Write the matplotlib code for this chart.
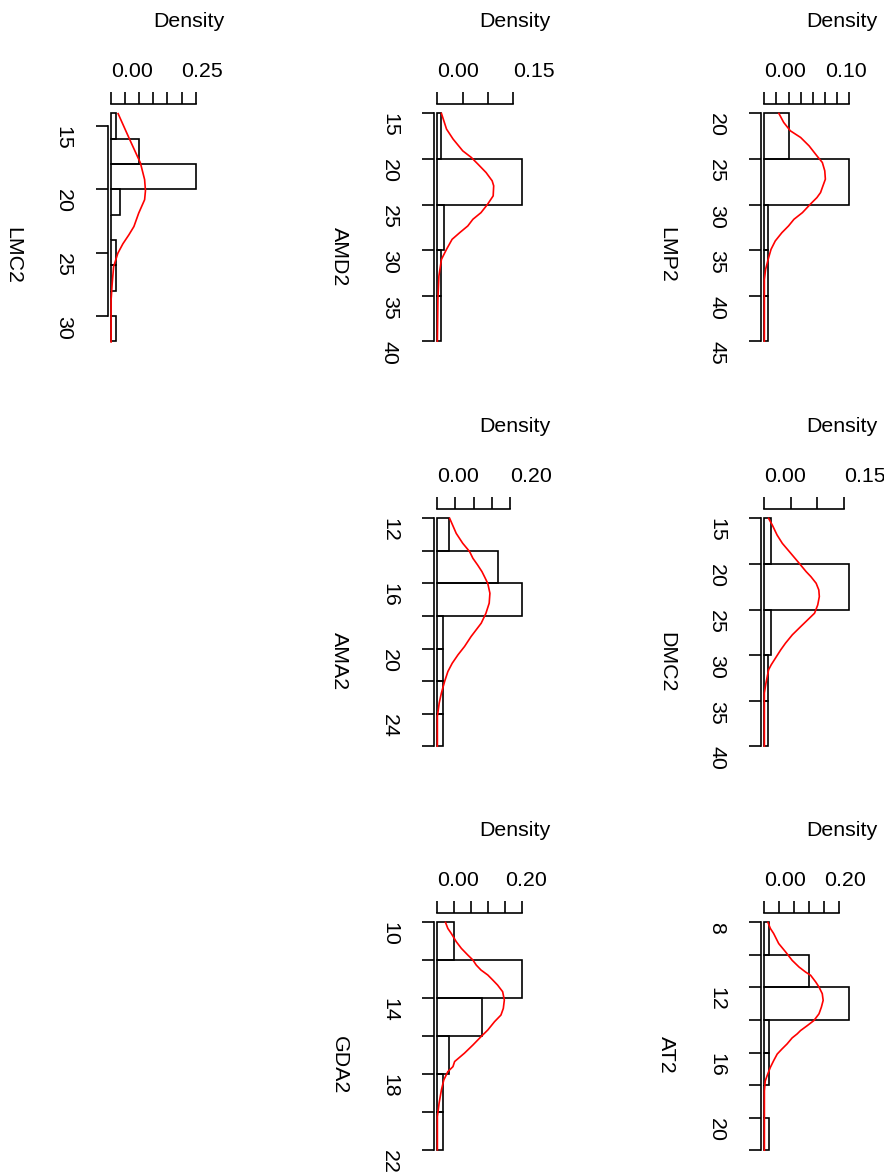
import numpy as np
import matplotlib.pyplot as plt

plt.rcParams['font.family'] = ['Liberation Sans', 'DejaVu Sans']

# histogram bins (edges) and counts per variable
lmc2_breaks = [14, 16, 18, 20, 22, 24, 26, 28, 30, 32]
lmc2_counts = [1, 6, 18, 2, 0, 1, 1, 0, 1]
amd2_breaks = [15, 20, 25, 30, 35, 40]
amd2_counts = [1, 25, 2, 1, 1]
lmp2_breaks = [20, 25, 30, 35, 40, 45]
lmp2_counts = [6, 21, 1, 1, 1]
ama2_breaks = [12, 14, 16, 18, 20, 22, 24, 26]
ama2_counts = [2, 10, 14, 1, 1, 1, 1]
dmc2_breaks = [15, 20, 25, 30, 35, 40]
dmc2_counts = [2, 24, 2, 1, 1]
gda2_breaks = [10, 12, 14, 16, 18, 20, 22]
gda2_counts = [3, 15, 8, 2, 1, 1]
at2_breaks = [8, 10, 12, 14, 16, 18, 20, 22]
at2_counts = [1, 9, 17, 1, 1, 0, 1]

# red density curves (value, density)
lmc2_cv = [14.02, 16.06, 17.91, 19.23, 20.11, 20.82, 21.88, 22.94, 23.6, 24.3, 25.05, 26.11, 27.43, 28.76, 32.06]
lmc2_cd = [0.025, 0.066, 0.104, 0.119, 0.122, 0.119, 0.098, 0.081, 0.063, 0.042, 0.024, 0.009, 0.004, 0.0, 0.0]
amd2_cv = [15.0, 16.72, 17.82, 19.11, 19.84, 20.57, 21.49, 22.40, 22.95, 24.05, 24.97, 25.89, 26.62, 27.35,
           28.09, 28.82, 29.92, 31.02, 32.85, 35.42, 40.0]
amd2_cd = [0.008, 0.018, 0.031, 0.050, 0.067, 0.080, 0.096, 0.108, 0.111, 0.110, 0.099, 0.086, 0.070, 0.060,
           0.044, 0.029, 0.018, 0.008, 0.003, 0.001, 0.0]
lmp2_cv = [20.0, 20.99, 21.91, 22.64, 23.56, 24.66, 25.39, 26.30, 27.22, 27.95, 28.69, 29.24, 29.97, 30.89,
           31.62, 32.35, 33.09, 34.00, 34.92, 35.84, 37.12, 38.22, 45.0]
lmp2_cd = [0.024, 0.032, 0.043, 0.060, 0.074, 0.087, 0.096, 0.100, 0.101, 0.097, 0.093, 0.087, 0.076, 0.063,
           0.049, 0.040, 0.029, 0.018, 0.011, 0.007, 0.002, 0.0, 0.0]
ama2_cv = [12.0, 12.92, 13.53, 14.04, 14.45, 14.86, 15.27, 15.58, 15.99, 16.60, 17.21, 17.83, 18.44, 18.85,
           19.26, 19.87, 20.38, 20.90, 21.41, 22.02, 22.74, 23.35, 24.17, 26.0]
ama2_cd = [0.034, 0.052, 0.070, 0.089, 0.098, 0.111, 0.123, 0.130, 0.139, 0.145, 0.143, 0.134, 0.121, 0.107,
           0.093, 0.075, 0.057, 0.041, 0.029, 0.020, 0.011, 0.005, 0.0, 0.0]
dmc2_cv = [15.0, 15.73, 16.82, 17.74, 18.83, 19.93, 20.84, 21.39, 22.12, 22.85, 23.58, 24.49, 25.40, 26.13,
           26.86, 27.77, 28.69, 29.42, 30.33, 31.06, 31.61, 33.07, 34.16, 40.0]
dmc2_cd = [0.008, 0.015, 0.024, 0.034, 0.050, 0.066, 0.079, 0.088, 0.098, 0.103, 0.104, 0.101, 0.095, 0.082,
           0.069, 0.053, 0.040, 0.031, 0.021, 0.013, 0.008, 0.003, 0.0, 0.0]
gda2_cv = [10.0, 10.32, 10.58, 11.02, 11.37, 11.72, 11.98, 12.25, 12.51, 12.77, 13.04, 13.30, 13.65, 14.09,
           14.53, 14.88, 15.23, 15.67, 16.02, 16.46, 16.89, 17.33, 17.60, 17.86, 18.30, 18.82, 19.53, 20.23, 21.98]
gda2_cd = [0.024, 0.031, 0.041, 0.056, 0.071, 0.090, 0.105, 0.115, 0.129, 0.149, 0.164, 0.178, 0.193, 0.198,
           0.195, 0.188, 0.169, 0.149, 0.129, 0.105, 0.080, 0.051, 0.046, 0.031, 0.019, 0.012, 0.005, 0.0, 0.0]
at2_cv = [8.0, 8.37, 8.68, 9.30, 9.81, 10.33, 10.74, 11.05, 11.25, 11.66, 11.97, 12.38, 12.79, 13.21, 13.62,
          14.03, 14.34, 14.65, 14.85, 15.10, 15.47, 15.78, 16.09, 16.50, 16.91, 17.33, 17.74, 18.35, 22.0]
at2_cd = [0.012, 0.020, 0.031, 0.048, 0.071, 0.093, 0.116, 0.138, 0.155, 0.172, 0.183, 0.194, 0.197, 0.191,
          0.183, 0.166, 0.144, 0.121, 0.110, 0.093, 0.076, 0.059, 0.043, 0.031, 0.020, 0.011, 0.003, 0.0, 0.0]

# axis ticks: density ticks / labelled ones, value ticks / labelled ones
lmc2_dt, lmc2_dl = [0, 0.05, 0.10, 0.15, 0.20, 0.25, 0.30], [0.0, 0.25]
amd2_dt, amd2_dl = [0, 0.05, 0.10, 0.15], [0.0, 0.15]
lmp2_dt, lmp2_dl = [0, 0.02, 0.04, 0.06, 0.08, 0.10, 0.12, 0.14], [0.0, 0.10]
ama2_dt, ama2_dl = [0, 0.05, 0.10, 0.15, 0.20], [0.0, 0.20]
dmc2_dt, dmc2_dl = [0, 0.05, 0.10, 0.15], [0.0, 0.15]
gda2_dt, gda2_dl = [0, 0.05, 0.10, 0.15, 0.20, 0.25], [0.0, 0.20]
at2_dt, at2_dl = [0, 0.05, 0.10, 0.15, 0.20, 0.25], [0.0, 0.20]

lmc2_vt, lmc2_vl = [15, 20, 25, 30], [15, 20, 25, 30]
amd2_vt, amd2_vl = [15, 20, 25, 30, 35, 40], [15, 20, 25, 30, 35, 40]
lmp2_vt, lmp2_vl = [20, 25, 30, 35, 40, 45], [20, 25, 30, 35, 40, 45]
ama2_vt, ama2_vl = [12, 14, 16, 18, 20, 22, 24, 26], [12, 16, 20, 24]
dmc2_vt, dmc2_vl = [15, 20, 25, 30, 35, 40], [15, 20, 25, 30, 35, 40]
gda2_vt, gda2_vl = [10, 12, 14, 16, 18, 20, 22], [10, 14, 18, 22]
at2_vt, at2_vl = [8, 10, 12, 14, 16, 18, 20, 22], [8, 12, 16, 20]

panels = [
    ("LMC2", lmc2_breaks, lmc2_counts, lmc2_cv, lmc2_cd, lmc2_dt, lmc2_dl, lmc2_vt, lmc2_vl, 0, 0),
    ("AMD2", amd2_breaks, amd2_counts, amd2_cv, amd2_cd, amd2_dt, amd2_dl, amd2_vt, amd2_vl, 0, 1),
    ("LMP2", lmp2_breaks, lmp2_counts, lmp2_cv, lmp2_cd, lmp2_dt, lmp2_dl, lmp2_vt, lmp2_vl, 0, 2),
    ("AMA2", ama2_breaks, ama2_counts, ama2_cv, ama2_cd, ama2_dt, ama2_dl, ama2_vt, ama2_vl, 1, 1),
    ("DMC2", dmc2_breaks, dmc2_counts, dmc2_cv, dmc2_cd, dmc2_dt, dmc2_dl, dmc2_vt, dmc2_vl, 1, 2),
    ("GDA2", gda2_breaks, gda2_counts, gda2_cv, gda2_cd, gda2_dt, gda2_dl, gda2_vt, gda2_vl, 2, 1),
    ("AT2", at2_breaks, at2_counts, at2_cv, at2_cd, at2_dt, at2_dl, at2_vt, at2_vl, 2, 2),
]

W, H = 884, 1175
COL_X = [107.7, 434.0, 761.0]
ROW_Y = [104.3, 509.3, 913.3]
AX_W, AX_H = 91.3, 246.0
FS = 15.4
LW = 1.2
PT = 72 / 100  # points per pixel

fig = plt.figure(figsize=(W / 100, H / 100), dpi=100)

for name, breaks, counts, cv, cd, dt, dl, vt, vl, r, c in panels:
    ax = fig.add_axes([COL_X[c] / W, 1 - (ROW_Y[r] + AX_H) / H, AX_W / W, AX_H / H])
    ax.patch.set_visible(False)
    breaks = np.array(breaks, dtype=float)
    counts = np.array(counts, dtype=float)
    widths = np.diff(breaks)
    dens = counts / (counts.sum() * widths)

    ax.barh(breaks[:-1], dens, height=widths, align='edge', fill=False,
            edgecolor='black', linewidth=LW, clip_on=False)
    ax.plot(cd, cv, color='red', lw=LW, clip_on=False)

    dmax = dens.max()
    ax.set_xlim(-0.04 * dmax, 1.04 * dmax)
    vr = breaks[-1] - breaks[0]
    ax.set_ylim(breaks[-1] + 0.04 * vr, breaks[0] - 0.04 * vr)

    for s in ['right', 'bottom']:
        ax.spines[s].set_visible(False)
    for s in ['top', 'left']:
        ax.spines[s].set_linewidth(LW)
    ax.spines['top'].set_bounds(0, dt[-1])
    ax.spines['left'].set_bounds(vt[0], vt[-1])

    ax.xaxis.tick_top()
    ax.set_xticks(dt, ['%.2f' % t if any(abs(t - l) < 1e-9 for l in dl) else '' for t in dt])
    ax.set_yticks(vt, [str(t) if t in vl else '' for t in vt])
    ax.tick_params(axis='x', direction='out', length=12 * PT, width=LW, pad=15 * PT, labelsize=FS)
    ax.tick_params(axis='y', direction='out', length=12 * PT, width=LW, pad=38 * PT, labelsize=FS)
    for lbl in ax.get_xticklabels():
        lbl.set(ha='left', va='baseline')
    for lbl in ax.get_yticklabels():
        lbl.set(rotation=-90, rotation_mode='anchor', ha='left', va='baseline')

    ax.text(0.5, 1 + 77 / AX_H, 'Density', transform=ax.transAxes,
            ha='left', va='baseline', fontsize=FS)
    ax.text(-100 / AX_W, 0.5, name, transform=ax.transAxes, rotation=-90,
            rotation_mode='anchor', ha='left', va='baseline', fontsize=FS)

fig.savefig('out.png', dpi=100)
